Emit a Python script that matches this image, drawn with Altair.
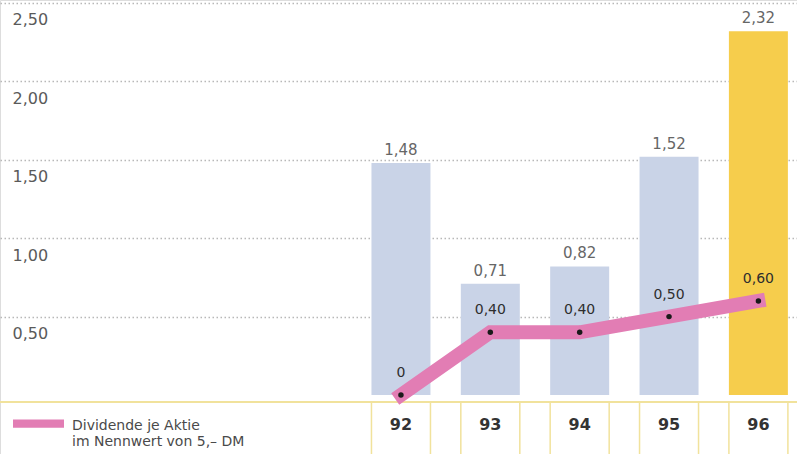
import altair as alt
import pandas as pd

years = [92, 93, 94, 95, 96]
year_labels = ["92", "93", "94", "95", "96"]
earnings = [1.48, 0.71, 0.82, 1.52, 2.32]
earnings_labels = ["1,48", "0,71", "0,82", "1,52", "2,32"]
dividend = [0.0, 0.40, 0.40, 0.50, 0.60]
dividend_labels = ["0", "0,40", "0,40", "0,50", "0,60"]
highlight = [False, False, False, False, True]
y_ticks = [0.5, 1.0, 1.5, 2.0, 2.5]
series_name = "Dividende je Aktie|im Nennwert von 5,– DM"

BLUE = "#c9d3e7"
YELLOW = "#f6cd4c"
PINK = "#e27db4"
TABLE = "#f1e29c"
FONT = "DejaVu Sans"

df = pd.DataFrame({
    "year": years,
    "year_label": year_labels,
    "earnings": earnings,
    "earnings_label": earnings_labels,
    "dividend": dividend,
    "dividend_label": dividend_labels,
    "highlight": highlight,
    "series": [series_name] * len(years),
})

W, H = 797, 454
x_scale = alt.Scale(domain=[87.569, 96.376], nice=False, zero=False)
y_scale = alt.Scale(domain=[-0.376, 2.519], nice=False, zero=False)

base = alt.Chart(df)
X = alt.X("year:Q", scale=x_scale, axis=None)

y_axis = alt.Axis(
    values=y_ticks, grid=True, gridDash=[1.5, 2.5], gridColor="#b8b8b8", gridWidth=1.5,
    domain=False, ticks=False, tickSize=0, labelAlign="left", labelBaseline="top",
    labelPadding=-12, labelOffset=9, labelFont=FONT, labelFontSize=16, labelColor="#5a5a5a",
    labelExpr="replace(format(datum.value, '.2f'), '.', ',')", title=None,
)


def Y(field):
    return alt.Y(field, scale=y_scale, axis=y_axis, title=None)


bars = base.mark_bar(size=59).encode(
    x=X,
    y=Y("earnings:Q"),
    color=alt.condition("datum.highlight", alt.value(YELLOW), alt.value(BLUE)),
)

bar_text = base.mark_text(baseline="bottom", dy=-5, font=FONT, fontSize=15, color="#666666").encode(
    x=X, y=Y("earnings:Q"), text="earnings_label:N"
)

table_top = base.mark_rule(color=TABLE, strokeWidth=2).encode(y=alt.datum(-0.045))

table_cells = base.mark_bar(size=59, fill=None, filled=False, stroke=TABLE, strokeWidth=1.5, clip=True).encode(
    x=X, y=alt.datum(-0.045), y2=alt.datum(-0.6)
)

cat_text = base.mark_text(font=FONT, fontSize=16, fontWeight="bold", color="#333333", baseline="middle").encode(
    x=X, y=alt.datum(-0.19), text="year_label:N"
)

line = base.mark_line(strokeWidth=14, strokeCap="square", strokeJoin="miter", clip=True).encode(
    x=X,
    y=Y("dividend:Q"),
    color=alt.Color(
        "series:N", scale=alt.Scale(range=[PINK]),
        legend=alt.Legend(
            orient="none", legendX=13, legendY=393, title=None, padding=0,
            symbolType="M-1,0.04L1,0.04L1,0.36L-1,0.36Z", symbolSize=2601,
            symbolFillColor=PINK, symbolStrokeWidth=0, labelOffset=8,
            labelFont=FONT, labelFontSize=14, labelColor="#4a4a4a", labelBaseline="top",
            labelExpr="split(datum.label, '|')", labelLimit=400,
        ),
    ),
)

dots = base.mark_point(filled=True, color="#1a1a1a", size=30, opacity=1).encode(
    x=X, y=Y("dividend:Q")
)

div_text = base.mark_text(baseline="middle", dy=-22, font=FONT, fontSize=14, color="#2e2e2e").encode(
    x=X, y=Y("dividend:Q"), text="dividend_label:N"
)

chart = alt.layer(
    bars, bar_text, table_top, table_cells, cat_text, line, dots, div_text
).properties(
    width=W, height=H, autosize=alt.AutoSizeParams(type="none"), padding=0
).configure_view(stroke=None).configure(background="white")

chart.save("out.html", embed_options={"renderer": "svg", "actions": False})
